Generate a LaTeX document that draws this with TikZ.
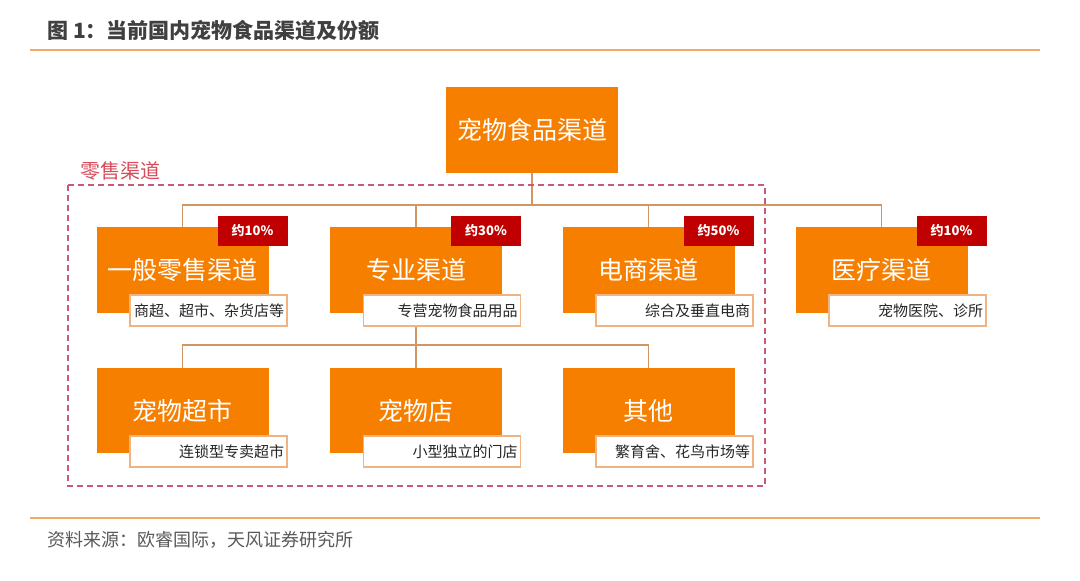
\documentclass[tikz,border=0pt]{standalone}
\usepackage{fontspec}
\setmainfont{Noto Sans CJK SC}
\pgfdeclarelayer{background}
\pgfsetlayers{background,main}
\definecolor{boxorange}{RGB}{247,127,0}
\definecolor{badgered}{RGB}{192,0,0}
\definecolor{titlegray}{RGB}{64,64,64}
\definecolor{srcgray}{RGB}{90,90,90}
\definecolor{rulecol}{RGB}{245,170,100}
\definecolor{linkcol}{RGB}{210,150,100}
\definecolor{subborder}{RGB}{240,180,130}
\definecolor{retailred}{RGB}{214,76,90}
\definecolor{dashcol}{RGB}{200,90,120}
\tikzset{
  mainbox/.style={fill=boxorange, draw=none, minimum width=172pt, minimum height=86pt, inner sep=0pt, text=white, font=\fontsize{25}{27}\selectfont},
  subbox/.style={fill=white, draw=subborder, line width=1.5pt, minimum width=157pt, minimum height=31pt, text width=151pt, align=right, inner sep=3pt, text=black!85, font=\fontsize{15}{17}\selectfont},
  badge/.style={fill=badgered, draw=none, minimum width=70pt, minimum height=30pt, inner sep=0pt, text=white, font=\bfseries\fontsize{13}{15}\selectfont},
  link/.style={draw=linkcol, line width=1.5pt},
  retailframe/.style={draw=dashcol, line width=2pt, dash pattern=on 6pt off 4pt},
  topic/.style={inner sep=0pt, anchor=west}
}
\begin{document}
\begin{tikzpicture}[x=1pt,y=-1pt]
\begin{pgfonlayer}{background}
\fill[white] (0,0) rectangle (1080,581);
\end{pgfonlayer}
\useasboundingbox (0,0) rectangle (1080,581);
% title and rules
\node[topic, text=titlegray, font=\bfseries\fontsize{21}{23}\selectfont] (title) at (47,30) {图 1：当前国内宠物食品渠道及份额};
\draw[rulecol, line width=2pt] (30,50) -- (1040,50);
\draw[rulecol, line width=2pt] (30,518) -- (1040,518);
\node[topic, text=srcgray, font=\fontsize{18}{20}\selectfont] (source) at (47,540) {资料来源：欧睿国际，天风证券研究所};

% nodes
\node[mainbox] (root) at (532,129.5) {宠物食品渠道};
\node[mainbox] (b1) at (182.5,270) {一般零售渠道};
\node[mainbox] (b2) at (416,270) {专业渠道};
\node[mainbox] (b3) at (648.5,270) {电商渠道};
\node[mainbox] (b4) at (881.5,270) {医疗渠道};
\node[mainbox, minimum height=85pt] (c1) at (182.5,410.5) {宠物超市};
\node[mainbox, minimum height=85pt] (c2) at (416,410.5) {宠物店};
\node[mainbox, minimum height=85pt] (c3) at (648.5,410.5) {其他};

% connectors
\coordinate (h1) at (532,205);
\coordinate (h2) at (416,345);
\begin{pgfonlayer}{background}
\draw[link] (root.south) -- (h1);
\draw[link] (b1.north) |- (h1) -| (b4.north);
\draw[link] (b2.north) -- (b2.north |- h1);
\draw[link] (b3.north) -- (b3.north |- h1);
\draw[link] (b2.south) -- (c2.north);
\draw[link] (c1.north) |- (h2) -| (c3.north);
\end{pgfonlayer}

% sub labels
\node[subbox] (s1) at ([shift={(26,40.5)}]b1.center) {商超、超市、杂货店等};
\node[subbox] (s2) at ([shift={(26,40.5)}]b2.center) {专营宠物食品用品};
\node[subbox] (s3) at ([shift={(26,40.5)}]b3.center) {综合及垂直电商};
\node[subbox] (s4) at ([shift={(26,40.5)}]b4.center) {宠物医院、诊所};
\node[subbox] (t1) at ([shift={(26,41)}]c1.center) {连锁型专卖超市};
\node[subbox] (t2) at ([shift={(26,41)}]c2.center) {小型独立的门店};
\node[subbox] (t3) at ([shift={(26,41)}]c3.center) {繁育舍、花鸟市场等};

% badges
\node[badge] (p1) at ([shift={(70,-39)}]b1.center) {约10\%};
\node[badge] (p2) at ([shift={(70,-39)}]b2.center) {约30\%};
\node[badge] (p3) at ([shift={(70,-39)}]b3.center) {约50\%};
\node[badge] (p4) at ([shift={(70,-39)}]b4.center) {约10\%};

% retail frame
\draw[retailframe] (68,185) rectangle (765,486);
\node[topic, text=retailred, font=\fontsize{20}{22}\selectfont] (retail) at (80,171) {零售渠道};
\end{tikzpicture}
\end{document}
